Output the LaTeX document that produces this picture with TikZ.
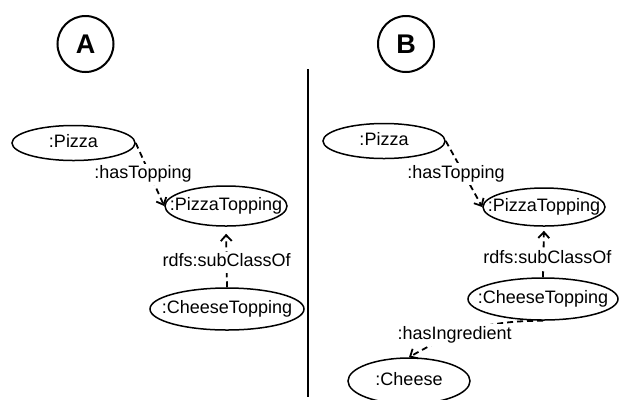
\documentclass[tikz,border=0pt]{standalone}
\usepackage{fontspec}
\setmainfont{Liberation Sans}
\usetikzlibrary{shapes.geometric,arrows.meta}

\begin{document}
\begin{tikzpicture}[
	x=1bp, y=-1bp,
	font=\fontsize{18bp}{21bp}\selectfont,
	panel/.style={circle, draw, line width=2bp, minimum size=56bp, inner sep=0pt,
		font=\fontsize{27bp}{30bp}\selectfont\bfseries},
	ent/.style={ellipse, draw, line width=1.5bp, inner sep=0pt,
		text height=12.5bp, text depth=3.8bp},
	rel/.style={line width=1.8bp, dash pattern=on 6bp off 4bp,
		-{Straight Barb[length=6bp,width=11bp,line width=1.8bp]}},
	lbl/.style={fill=white, inner xsep=2bp, inner ysep=2.5bp,
		text height=12.5bp, text depth=3.8bp}
]
	\useasboundingbox (0,0) rectangle (619,399);

	% panel marks and divider
	\node[panel] (markA) at (85.5,44) {A};
	\node[panel] (markB) at (406,44) {B};
	\draw[line width=1.6bp] (308,69) -- (308,397);

	% A
	\node[ent, minimum width=123bp, minimum height=35bp] (pizzaA) at (73.5,143) {\makebox[0pt]{:Pizza}};
	\node[ent, minimum width=122bp, minimum height=40bp] (toppingA) at (226,206) {\makebox[0pt]{:PizzaTopping}};
	\node[ent, minimum width=154bp, minimum height=42bp] (cheeseTopA) at (227,309) {\makebox[0pt]{:CheeseTopping}};

	\draw[rel] (pizzaA.east) -- node[lbl, xshift=-7bp] {:hasTopping} (toppingA.west);
	\draw[rel, shorten >=7bp] (cheeseTopA.north) -- node[lbl, pos=0.41] {rdfs:subClassOf} (toppingA.south);

	% B
	\node[ent, minimum width=122bp, minimum height=35bp] (pizzaB) at (384,141) {\makebox[0pt]{:Pizza}};
	\node[ent, minimum width=122bp, minimum height=38bp] (toppingB) at (544,207) {\makebox[0pt]{:PizzaTopping}};
	\node[ent, minimum width=150bp, minimum height=42bp] (cheeseTopB) at (543,299) {\makebox[0pt]{:CheeseTopping}};
	\node[ent, minimum width=122bp, minimum height=46bp] (cheeseB) at (409,381) {\makebox[0pt]{:Cheese}};

	\draw[rel] (pizzaB.east) -- node[lbl, xshift=-8bp] {:hasTopping} (toppingB.west);
	\draw[rel, shorten >=4bp] (cheeseTopB.north) -- node[lbl, pos=0.35, xshift=4bp] {rdfs:subClassOf} (toppingB.south);
	\draw[rel] (cheeseTopB.south) to[out=180, in=30] node[lbl, pos=0.65] {:hasIngredient} (cheeseB.north);
\end{tikzpicture}
\end{document}
